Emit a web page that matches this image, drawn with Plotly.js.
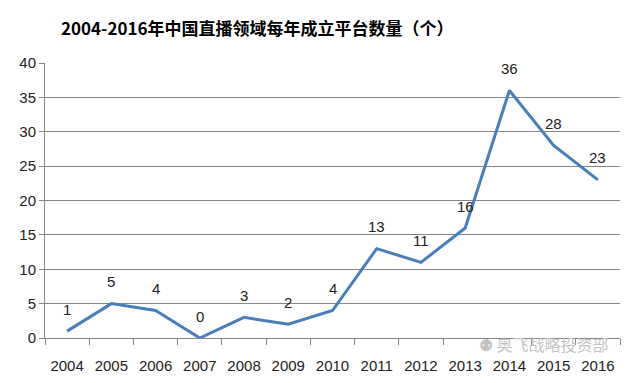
<!DOCTYPE html>
<html>
<head>
<meta charset="utf-8">
<script src="https://cdn.plot.ly/plotly-3.0.1.min.js"></script>
<style>html,body{margin:0;padding:0;background:#fff;}#chart{width:640px;height:383px;}</style>
</head>
<body>
<div id="chart"></div>
<script>
const years = ["2004","2005","2006","2007","2008","2009","2010","2011","2012","2013","2014","2015","2016"];
const counts = [1,5,4,0,3,2,4,13,11,16,36,28,23];
const yTicks = [0,5,10,15,20,25,30,35,40];

const labelFont = {family: "Liberation Sans, Arial, sans-serif", size: 15, color: "#222"};

const annotations = years.map((y, i) => ({
  x: i, y: counts[i], xref: "x", yref: "y",
  text: String(counts[i]), showarrow: false, yshift: 22,
  font: labelFont
}));
annotations.push({
  xref: "paper", yref: "paper", x: 0.985, y: -0.021, xanchor: "right", yanchor: "middle",
  text: "\u2689 奥飞战略投资部", showarrow: false,
  font: {family: "Noto Sans CJK SC, sans-serif", size: 16, color: "#c4c4c4"}
});

Plotly.newPlot("chart", [{
  type: "scatter", mode: "lines",
  x: years, y: counts,
  line: {color: "#4a7ebb", width: 3},
  hoverinfo: "skip"
}], {
  width: 640, height: 383,
  margin: {l: 45, r: 20, t: 63, b: 45},
  paper_bgcolor: "#fff", plot_bgcolor: "#fff",
  showlegend: false,
  title: {
    text: "<b>2004-2016年中国直播领域每年成立平台数量（个）</b>",
    x: 0.402, xanchor: "center", xref: "container",
    y: 0.925, yanchor: "middle", yref: "container",
    font: {family: "Noto Sans CJK SC, sans-serif", size: 17, color: "#000"}
  },
  xaxis: {
    type: "category", range: [-0.5, 12.5],
    tickson: "boundaries", ticks: "outside", ticklen: 6, tickcolor: "#868686",
    ticklabelstandoff: 14,
    showline: true, linecolor: "#868686", linewidth: 1,
    showgrid: false, zeroline: false,
    tickfont: labelFont, fixedrange: true
  },
  yaxis: {
    range: [0, 40], tickvals: yTicks, ticktext: yTicks.map(String),
    ticks: "outside", ticklen: 5, tickcolor: "#868686",
    showline: true, linecolor: "#868686", linewidth: 1,
    showgrid: true, gridcolor: "#868686", gridwidth: 1,
    zeroline: false, tickfont: labelFont, fixedrange: true
  },
  annotations: annotations
}, {displayModeBar: false, staticPlot: true});
</script>
</body>
</html>
